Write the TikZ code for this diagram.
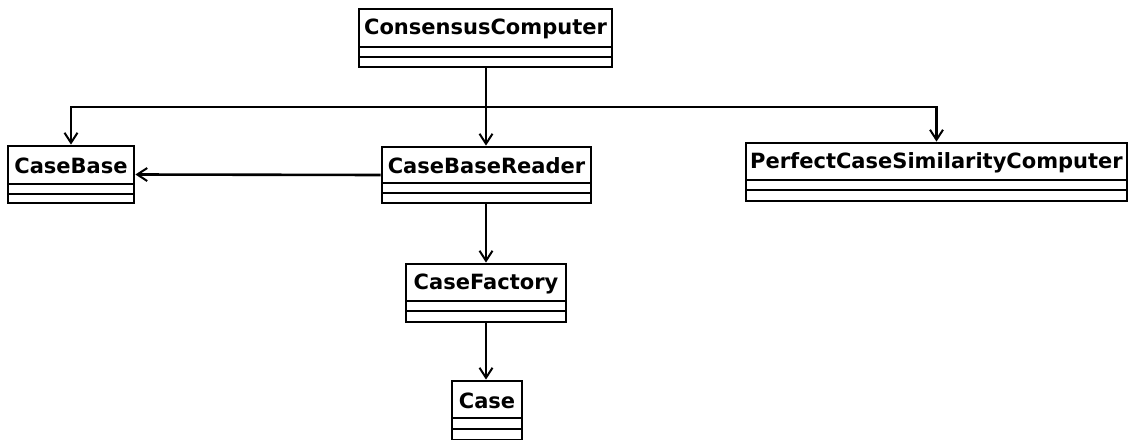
\documentclass[tikz,border=0pt]{standalone}
\usepackage{fontspec}
\setmainfont{DejaVu Sans}
\usetikzlibrary{arrows.meta,fit}

\tikzset{
  classbox/.style={draw, line width=2.8pt, inner sep=0pt, fill=white},
  classname/.style={font=\bfseries\fontsize{21}{24}\selectfont, inner sep=0pt},
  compline/.style={line width=2.8pt},
  assoc/.style={line width=2.6pt, -{Straight Barb[length=10pt, width=13pt, line width=2pt]}}
}

% #1 name, #2 left, #3 top, #4 right, #5 first divider, #6 second divider, #7 bottom, #8 label
\newcommand\umlclass[8]{%
  \node[classbox, fit={(#2,#3) (#4,#7)}] (#1) {};
  \node[classname] (#1-name) at ({(#2+#4)/2},{(#3+#5)/2+1}) {#8};
  \draw[compline] (#2,#5) -- (#4,#5);
  \draw[compline] (#2,#6) -- (#4,#6);
}

\begin{document}
\begin{tikzpicture}[x=1pt, y=-1pt]
  \useasboundingbox (0,0) rectangle (1132,439);

  \umlclass{cc}{359}{9}{612}{47}{57}{67}{ConsensusComputer}
  \umlclass{cb}{8}{146}{134}{184}{194}{203}{CaseBase}
  \umlclass{cbr}{382}{147}{591}{183}{193}{203}{CaseBaseReader}
  \umlclass{pcs}{746}{143}{1127}{180}{190}{201}{PerfectCaseSimilarityComputer}
  \umlclass{cf}{406}{264}{566}{301}{311}{322}{CaseFactory}
  \umlclass{ca}{452}{381}{522}{418}{429}{440}{Case}

  % dependencies of ConsensusComputer, fanned out along one bus line
  \coordinate (bus) at (486,107);
  \draw[assoc] (cc.south -| bus) -- (bus) -| (cb.north);
  \draw[assoc] (cc.south -| bus) -- (cbr.north -| bus);
  \draw[assoc] (bus) -| (pcs.north);

  % reader chain
  \draw[assoc] (cbr.west) -- (cb.east);
  \draw[assoc] (cbr.south -| bus) -- (cf.north -| bus);
  \draw[assoc] (cf.south -| bus) -- (ca.north -| bus);
\end{tikzpicture}
\end{document}
